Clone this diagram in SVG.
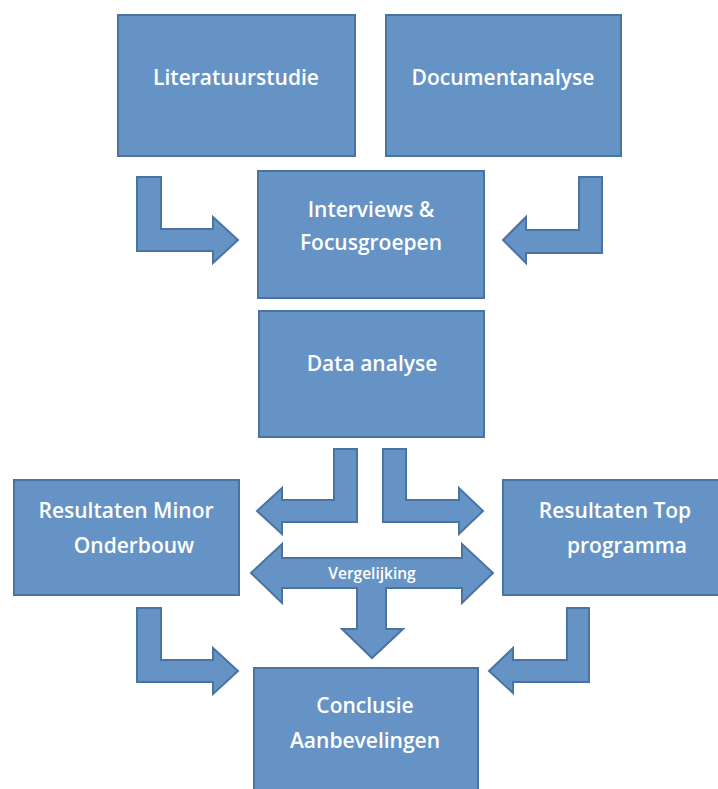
<svg xmlns="http://www.w3.org/2000/svg" width="718" height="789" viewBox="0 0 718 789">
<style>
.box{fill:#6693C5;stroke:#4A74A0;stroke-width:2}
.arr{fill:#6693C5;stroke:#4A74A0;stroke-width:2;stroke-linejoin:miter}
.t{font-family:"Open Sans","Liberation Sans",sans-serif;font-weight:600;font-size:21px;fill:#ffffff;text-anchor:middle}
.s{font-family:"Open Sans","Liberation Sans",sans-serif;font-weight:600;font-size:15.5px;fill:#ffffff;text-anchor:middle}
</style>
<rect width="718" height="789" fill="#ffffff"/>
<g id="connectors">
<polygon class="arr" points="137,177 161,177 161,229 213,229 213,217 238,240 213,263 213,251 137,251"/>
<polygon class="arr" points="579,177 602,177 602,253 526,253 526,263 503,240 526,217 526,230 579,230"/>
<polygon class="arr" points="334,449 357,449 357,522 282,522 282,534 257,511 282,488 282,500 334,500"/>
<polygon class="arr" points="383,449 406,449 406,500 459,500 459,488 483,511 459,534 459,522 383,522"/>
<polygon class="arr" points="251,573 282,544 282,558 462,558 462,544 493,573 462,603 462,588 386,588 386,629 403,629 372,658 342,629 357,629 357,588 282,588 282,603"/>
<text class="s" x="372" y="579">Vergelijking</text>
<polygon class="arr" points="137,608 161,608 161,660 213,660 213,648 238,671 213,694 213,682 137,682"/>
<polygon class="arr" points="567,608 589,608 589,682 513,682 513,693 489,671 513,648 513,660 567,660"/>
</g>
<g id="literatuurstudie">
<rect class="box" x="118" y="15" width="237" height="141"/>
<text class="t" x="236" y="85">Literatuurstudie</text>
</g>
<g id="documentanalyse">
<rect class="box" x="386" y="15" width="235" height="141"/>
<text class="t" x="503" y="85">Documentanalyse</text>
</g>
<g id="interviews">
<rect class="box" x="258" y="171" width="226" height="127"/>
<text class="t" x="371" y="217">Interviews &amp;</text>
<text class="t" x="371" y="250">Focusgroepen</text>
</g>
<g id="data-analyse">
<rect class="box" x="259" y="311" width="225" height="126"/>
<text class="t" x="372" y="371">Data analyse</text>
</g>
<g id="resultaten-minor">
<rect class="box" x="14" y="480" width="225" height="115"/>
<text class="t" x="126" y="518">Resultaten Minor</text>
<text class="t" x="134" y="553">Onderbouw</text>
</g>
<g id="resultaten-top">
<rect class="box" x="503" y="480" width="226" height="115"/>
<text class="t" x="615" y="518">Resultaten Top</text>
<text class="t" x="627" y="553">programma</text>
</g>
<g id="conclusie">
<rect class="box" x="254" y="668" width="224" height="125"/>
<text class="t" x="365" y="713">Conclusie</text>
<text class="t" x="365" y="748">Aanbevelingen</text>
</g>
</svg>
